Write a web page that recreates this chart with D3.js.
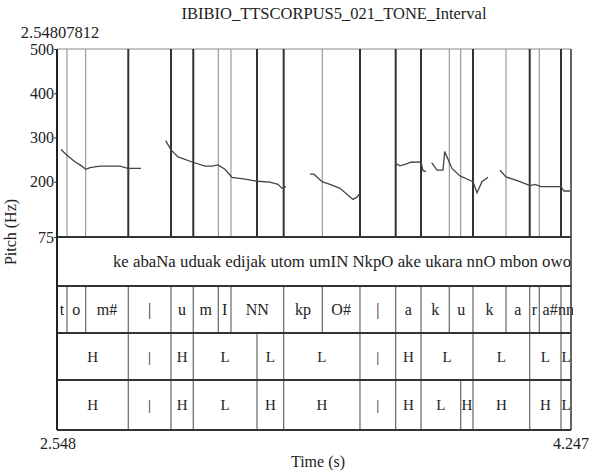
<!DOCTYPE html>
<html>
<head>
<meta charset="utf-8">
<script src="https://cdn.jsdelivr.net/npm/d3@7"></script>
<style>
  body { margin: 0; background: #fff; }
  svg text { font-family: "Liberation Serif", "DejaVu Serif", serif !important; fill: #222; }
</style>
</head>
<body>
<div id="chart"></div>
<script>
// data
var chartTitle = 'IBIBIO_TTSCORPUS5_021_TONE_Interval';
var timeRange = [2.54807812, 4.247];
var pitchRange = [75, 500];
var pitchTicks = [75, 200, 300, 400, 500];

var pitchSegments = [
    [[2.5612, 273], [2.5811, 260], [2.6075, 245], [2.6240, 238], [2.6439, 228], [2.6571, 232],
     [2.6901, 235], [2.7562, 235], [2.7827, 230], [2.8257, 230]],
    [[2.9073, 293], [2.9248, 272], [2.9480, 256], [2.9975, 244], [3.0372, 235], [3.0603, 235],
     [3.0802, 238], [3.1033, 228], [3.1265, 210], [3.1694, 206], [3.2091, 201], [3.2521, 199],
     [3.2785, 194], [3.2918, 185], [3.3050, 189]],
    [[3.3843, 217], [3.3975, 217], [3.4240, 200], [3.4504, 194], [3.4835, 185], [3.5264, 160],
     [3.5397, 165], [3.5495, 174]],
    [[3.6686, 241], [3.6818, 236], [3.6983, 239], [3.7182, 244], [3.7512, 245], [3.7578, 225],
     [3.7677, 223]],
    [[3.7865, 243], [3.8041, 226], [3.8239, 226], [3.8295, 268], [3.8536, 230], [3.8801, 213],
     [3.9065, 205], [3.9230, 200], [3.9363, 175], [3.9528, 200], [3.9727, 210]],
    [[4.0123, 226], [4.0321, 211], [4.0784, 200], [4.1114, 191], [4.1279, 194], [4.1478, 189],
     [4.2139, 189], [4.2238, 179], [4.2437, 179]]
];

var textBounds = [2.54807812, 4.432];
var textLabels = ['ke abaNa uduak edijak utom umIN NkpO ake ukara nnO mbon owo'];

var phoneBounds = [2.54807812, 2.5811, 2.6429, 2.7837, 2.9248, 2.9985, 3.0812, 3.1231, 3.2973,
    3.4249, 3.5495, 3.6675, 3.7512, 3.8447, 3.9230, 4.0321, 4.1105, 4.1422, 4.2139, 4.247];
var phoneLabels = ['t', 'o', 'm#', '|', 'u', 'm', 'I', 'NN', 'kp', 'O#', '|', 'a', 'k', 'u',
    'k', 'a', 'r', 'a#', 'nn'];

var toneBounds = [2.54807812, 2.7837, 2.9248, 2.9985, 3.2091, 3.2973, 3.5495, 3.6675, 3.7512,
    3.9230, 4.1105, 4.2139, 4.247];
var toneLabels = ['H', '|', 'H', 'L', 'L', 'L', '|', 'H', 'L', 'L', 'L', 'L'];

var surfaceBounds = [2.54807812, 2.7837, 2.9248, 2.9985, 3.2091, 3.2973, 3.5495, 3.6675, 3.7512,
    3.8824, 3.9230, 4.1105, 4.2139, 4.247];
var surfaceLabels = ['H', '|', 'H', 'L', 'H', 'H', '|', 'H', 'L', 'H', 'H', 'H', 'L'];

function drawChart() {
    // layout
    var width = 589, height = 473;
    var plotLeft = 57, plotRight = 571, plotTop = 49, pitchBottom = 237;
    var tierEdges = [237, 286, 333, 380, 430];
    var serif = '"Liberation Serif", "DejaVu Serif", serif';

    var svg = d3.select('#chart')
        .append('svg')
        .attr('width', width)
        .attr('height', height)
        .attr('font-family', serif)
        .style('font-family', serif);

    var x = d3.scaleLinear().domain(timeRange).range([plotLeft, plotRight]);
    var y = d3.scaleLinear().domain(pitchRange).range([pitchBottom, plotTop]);

    svg.append('defs').append('clipPath')
        .attr('id', 'plot-clip')
        .append('rect')
        .attr('x', plotLeft).attr('y', plotTop)
        .attr('width', plotRight - plotLeft + 2).attr('height', tierEdges[4] - plotTop);

    // title + top-left time
    svg.append('text')
        .attr('x', (plotLeft + plotRight) / 2 + 20)
        .attr('y', 19)
        .style('text-anchor', 'middle')
        .style('font-size', '16.5px')
        .text(chartTitle);

    svg.append('text')
        .attr('x', 60)
        .attr('y', 38)
        .style('text-anchor', 'middle')
        .style('font-size', '16.5px')
        .text(timeRange[0].toFixed(8));

    // top border of the pitch panel
    svg.append('line')
        .attr('x1', plotLeft).attr('x2', plotRight)
        .attr('y1', plotTop).attr('y2', plotTop)
        .style('stroke', '#888')
        .style('stroke-width', 1);

    // boundary lines through the pitch panel (thicker where tiers share them)
    var tiers = [
        { bounds: textBounds, labels: textLabels, size: 16.8 },
        { bounds: phoneBounds, labels: phoneLabels, size: 16 },
        { bounds: toneBounds, labels: toneLabels, size: 15 },
        { bounds: surfaceBounds, labels: surfaceLabels, size: 15 }
    ];

    var boundaryCount = {};
    tiers.slice(1).forEach(function(t) {
        t.bounds.slice(1, -1).forEach(function(b) {
            boundaryCount[b] = (boundaryCount[b] || 0) + 1;
        });
    });
    var boundaryData = Object.keys(boundaryCount).map(function(k) {
        return { t: +k, n: boundaryCount[k] };
    });

    svg.selectAll('.pitch-boundary')
        .data(boundaryData)
        .enter().append('line')
        .attr('class', 'pitch-boundary')
        .attr('x1', function(d) { return x(d.t); })
        .attr('x2', function(d) { return x(d.t); })
        .attr('y1', plotTop)
        .attr('y2', pitchBottom)
        .style('stroke', function(d) { return d.n > 1 ? '#333' : '#888'; })
        .style('stroke-width', function(d) { return d.n > 1 ? 2 : 1; });

    // pitch contour
    var line = d3.line()
        .x(function(d) { return x(d[0]); })
        .y(function(d) { return y(d[1]); });

    svg.selectAll('.pitch-seg')
        .data(pitchSegments)
        .enter().append('path')
        .attr('class', 'pitch-seg')
        .attr('d', line)
        .style('fill', 'none')
        .style('stroke', '#444')
        .style('stroke-width', 1.3);

    // y axis
    var yAxis = svg.append('g')
        .attr('transform', 'translate(' + plotLeft + ',0)')
        .call(d3.axisLeft(y).tickValues(pitchTicks).tickSize(3).tickPadding(0));
    yAxis.attr('font-family', serif).attr('font-size', 16);
    yAxis.select('.domain').remove();
    yAxis.selectAll('.tick line').style('stroke', '#333');
    yAxis.selectAll('.tick text').style('fill', '#222');

    svg.append('text')
        .attr('transform', 'translate(16,' + 232 + ') rotate(-90)')
        .style('text-anchor', 'middle')
        .style('font-size', '16px')
        .text('Pitch (Hz)');

    // tiers
    tiers.forEach(function(tier, i) {
        var y0 = tierEdges[i], y1 = tierEdges[i + 1];
        var g = svg.append('g')
            .attr('class', 'tier')
            .attr('clip-path', 'url(#plot-clip)');

        var intervals = tier.labels.map(function(l, j) {
            return { label: l, start: tier.bounds[j], end: tier.bounds[j + 1] };
        });

        g.selectAll('.tier-boundary')
            .data(tier.bounds.slice(1, -1))
            .enter().append('line')
            .attr('class', 'tier-boundary')
            .attr('x1', function(d) { return x(d); })
            .attr('x2', function(d) { return x(d); })
            .attr('y1', y0)
            .attr('y2', y1)
            .style('stroke', '#666')
            .style('stroke-width', 1.2);

        g.selectAll('.tier-label')
            .data(intervals)
            .enter().append('text')
            .attr('class', 'tier-label')
            .attr('x', function(d) { return (x(d.start) + x(d.end)) / 2; })
            .attr('y', (y0 + y1) / 2)
            .attr('dy', '0.35em')
            .style('text-anchor', 'middle')
            .style('font-size', tier.size + 'px')
            .text(function(d) { return d.label; });
    });

    // tier separators
    svg.selectAll('.tier-edge')
        .data(tierEdges)
        .enter().append('line')
        .attr('class', 'tier-edge')
        .attr('x1', plotLeft).attr('x2', plotRight)
        .attr('y1', function(d) { return d; })
        .attr('y2', function(d) { return d; })
        .style('stroke', '#333')
        .style('stroke-width', 2);

    // left and right borders
    svg.append('line')
        .attr('x1', plotLeft).attr('x2', plotLeft)
        .attr('y1', plotTop).attr('y2', tierEdges[4])
        .style('stroke', '#222')
        .style('stroke-width', 2);

    svg.append('line')
        .attr('x1', plotRight).attr('x2', plotRight)
        .attr('y1', plotTop).attr('y2', tierEdges[4])
        .style('stroke', '#333')
        .style('stroke-width', 1.5);

    // time axis labels
    svg.append('text')
        .attr('x', x(timeRange[0]) + 1)
        .attr('y', 449)
        .style('text-anchor', 'middle')
        .style('font-size', '16px')
        .text(timeRange[0].toFixed(3));

    svg.append('text')
        .attr('x', x(timeRange[1]))
        .attr('y', 449)
        .style('text-anchor', 'middle')
        .style('font-size', '16px')
        .text(timeRange[1].toFixed(3));

    svg.append('text')
        .attr('x', 318)
        .attr('y', 467)
        .style('text-anchor', 'middle')
        .style('font-size', '16px')
        .text('Time (s)');
}

drawChart();
</script>
</body>
</html>
